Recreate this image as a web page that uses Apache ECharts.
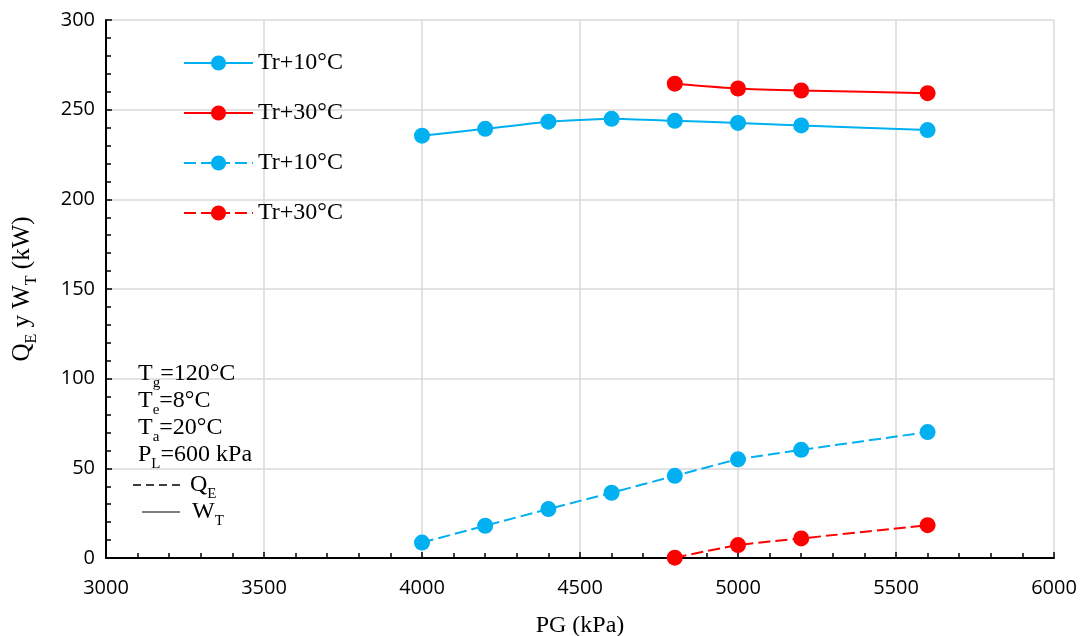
<!DOCTYPE html>
<html>
<head>
<meta charset="utf-8">
<script src="https://cdn.jsdelivr.net/npm/echarts@6/dist/echarts.min.js"></script>
<style>html,body{margin:0;padding:0;background:#fff;}#c{width:1081px;height:636px;}</style>
</head>
<body>
<div id="c"></div>
<script>
// ---- data ----
const pg10 = [4000, 4200, 4400, 4600, 4800, 5000, 5200, 5600];
const pg30 = [4800, 5000, 5200, 5600];
const wt10 = [235.5, 239.3, 243.3, 244.9, 243.8, 242.6, 241.2, 238.6];
const wt30 = [264.5, 261.8, 260.7, 259.2];
const qe10 = [8.6, 18.0, 27.3, 36.4, 45.8, 55.0, 60.3, 70.2];
const qe30 = [0.2, 7.2, 10.9, 18.3];
const seriesNames = ['Tr+10°C', 'Tr+30°C', 'Tr+10°C', 'Tr+30°C'];
const xTicks = [3000, 3500, 4000, 4500, 5000, 5500, 6000];
const yTicks = [0, 50, 100, 150, 200, 250, 300];

const BLUE = '#00B0F0', RED = '#FF0000';
const SERIF = '"Liberation Serif", "DejaVu Serif", serif';
const SANS = '"Open Sans", "Noto Sans", sans-serif';

function zip(xs, ys) { return xs.map((x, i) => [x, ys[i]]); }
function mk(id, name, xs, ys, color, dashed) {
  return {
    type: 'line', name: name + '|' + id, data: zip(xs, ys),
    symbol: 'circle', symbolSize: 16, smooth: 0.15,
    itemStyle: { color: color },
    lineStyle: { color: color, width: 2, type: dashed ? [12, 5] : 'solid' },
    z: 3
  };
}
const subRich = {
  n: { fontFamily: SERIF, fontSize: 24, fill: '#000', color: '#000', lineHeight: 27, verticalAlign: 'bottom' },
  s: { fontFamily: SERIF, fontSize: 15, fill: '#000', color: '#000', lineHeight: 16, verticalAlign: 'bottom', padding: [0, 0, -5, 0] }
};
const nameRich = {
  n: { fontFamily: SERIF, fontSize: 25, color: '#000', lineHeight: 28, verticalAlign: 'bottom' },
  s: { fontFamily: SERIF, fontSize: 16, color: '#000', lineHeight: 17, verticalAlign: 'bottom', padding: [0, 0, -5, 0] }
};

const chart = echarts.init(document.getElementById('c'));
chart.setOption({
  animation: false,
  backgroundColor: '#fff',
  grid: { left: 106, right: 27, top: 20, bottom: 78, containLabel: false, outerBoundsMode: 'none' },
  legend: {
    orient: 'vertical', left: 178, top: 46,
    itemWidth: 69, itemHeight: 19, itemGap: 26,
    textStyle: { fontFamily: SERIF, fontSize: 24, color: '#000' },
    formatter: n => n.split('|')[0],
    selectedMode: false
  },
  xAxis: {
    type: 'value', min: 3000, max: 6000, interval: 500,
    name: 'PG (kPa)', nameLocation: 'middle', nameGap: 56,
    nameTextStyle: { fontFamily: SERIF, fontSize: 24, color: '#000' },
    axisLine: { show: true, lineStyle: { color: '#000', width: 2 } },
    axisTick: { show: true, inside: true, length: 6, lineStyle: { color: '#000', width: 1.5 } },
    minorTick: { show: true, splitNumber: 5, length: 5, lineStyle: { color: '#000', width: 1.5 } },
    axisLabel: { fontFamily: SANS, fontSize: 20, color: '#000', margin: 20,
      formatter: v => xTicks.indexOf(v) >= 0 ? String(v) : '' },
    splitLine: { show: true, lineStyle: { color: '#d9d9d9', width: 1.5 } }
  },
  yAxis: {
    type: 'value', min: 0, max: 300, interval: 50,
    name: '{n|Q}{s|E}{n| y W}{s|T}{n| (kW)}', nameLocation: 'middle', nameGap: 71,
    nameTextStyle: { fontFamily: SERIF, color: '#000', rich: nameRich },
    axisLine: { show: true, lineStyle: { color: '#000', width: 2 } },
    axisTick: { show: true, inside: true, length: 6, lineStyle: { color: '#000', width: 1.5 } },
    minorTick: { show: true, splitNumber: 5, length: 5, lineStyle: { color: '#000', width: 1.5 } },
    axisLabel: { fontFamily: SANS, fontSize: 20, color: '#000', margin: 11,
      formatter: v => yTicks.indexOf(v) >= 0 ? String(v) : '' },
    splitLine: { show: true, lineStyle: { color: '#d9d9d9', width: 1.5 } }
  },
  graphic: [
    { type: 'text', left: 138, top: 362, z: 10,
      style: { text: '{n|T}{s|g}{n|=120°C}\n{n|T}{s|e}{n|=8°C}\n{n|T}{s|a}{n|=20°C}\n{n|P}{s|L}{n|=600 kPa}',
        fill: '#000', font: '24px ' + SERIF, rich: subRich } },
    { type: 'line', z: 10, shape: { x1: 133, y1: 485, x2: 183, y2: 485 },
      style: { stroke: '#000', lineWidth: 1.5, lineDash: [8, 5] } },
    { type: 'line', z: 10, shape: { x1: 142, y1: 512, x2: 180, y2: 512 },
      style: { stroke: '#000', lineWidth: 1.2 } },
    { type: 'text', left: 190, top: 473, z: 10,
      style: { text: '{n|Q}{s|E}', rich: subRich } },
    { type: 'text', left: 192, top: 500, z: 10,
      style: { text: '{n|W}{s|T}', rich: subRich } }
  ],
  series: [
    mk('w10', seriesNames[0], pg10, wt10, BLUE, false),
    mk('w30', seriesNames[1], pg30, wt30, RED, false),
    mk('q10', seriesNames[2], pg10, qe10, BLUE, true),
    mk('q30', seriesNames[3], pg30, qe30, RED, true)
  ]
});
</script>
</body>
</html>
